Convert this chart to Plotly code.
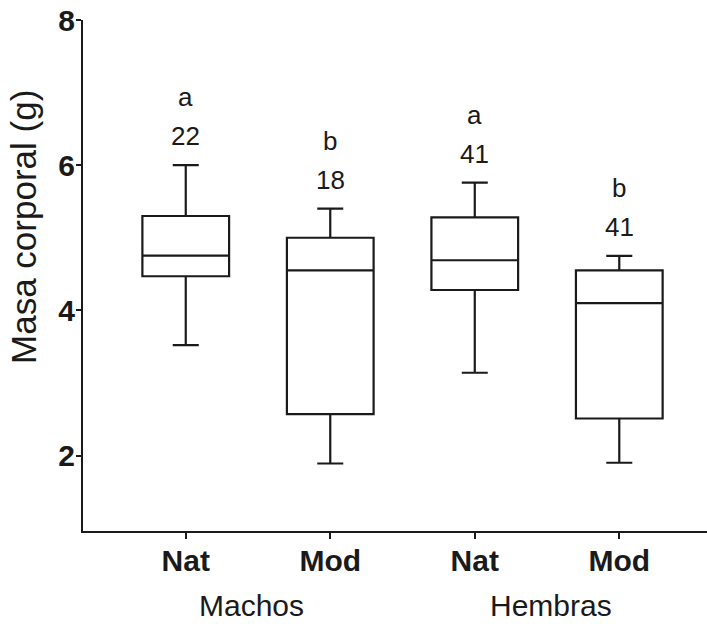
import plotly.graph_objects as go

# ---- data ----
categories = ["Nat", "Mod", "Nat", "Mod"]
groups = ["Machos", "Hembras"]
group_members = [[0, 1], [2, 3]]
upper_whisker = [6.00, 5.40, 5.76, 4.75]
q3_vals = [5.30, 5.00, 5.28, 4.55]
median_vals = [4.755, 4.55, 4.69, 4.10]
q1_vals = [4.47, 2.57, 4.28, 2.51]
lower_whisker = [3.52, 1.89, 3.14, 1.90]
n_labels = ["22", "18", "41", "41"]
sig_letters = ["a", "b", "a", "b"]
y_ticks = [2, 4, 6, 8]

positions = list(range(len(categories)))
FONT = "Liberation Sans, Arial, Helvetica, sans-serif"
INK = "#1a1a1a"

fig = go.Figure()
fig.add_trace(go.Box(
    x=positions,
    q1=q1_vals, median=median_vals, q3=q3_vals,
    lowerfence=lower_whisker, upperfence=upper_whisker,
    width=0.6, whiskerwidth=0.3,
    fillcolor="white",
    line=dict(color=INK, width=2.2),
    boxpoints=False,
    showlegend=False,
    hoverinfo="skip",
))

annotations = []
for i in positions:
    annotations.append(dict(x=i, y=upper_whisker[i], xref="x", yref="y",
                            text=n_labels[i], showarrow=False,
                            yanchor="bottom", yshift=12,
                            font=dict(family=FONT, size=26, color=INK)))
    annotations.append(dict(x=i, y=upper_whisker[i], xref="x", yref="y",
                            text=sig_letters[i], showarrow=False,
                            yanchor="bottom", yshift=51,
                            font=dict(family=FONT, size=26, color=INK)))

group_shifts = [-7, 4]
for g, members in enumerate(group_members):
    cx = sum(members) / len(members)
    annotations.append(dict(x=cx, y=0, xref="x", yref="paper",
                            text=groups[g], showarrow=False,
                            yanchor="middle", yshift=-74, xshift=group_shifts[g],
                            font=dict(family=FONT, size=30, color=INK)))

annotations.append(dict(x=0, y=0.595, xref="paper", yref="paper",
                        text="Masa corporal (g)", showarrow=False,
                        textangle=-90, xanchor="center", yanchor="middle",
                        xshift=-59,
                        font=dict(family=FONT, size=35, color=INK)))

fig.update_layout(
    width=707, height=624,
    margin=dict(l=83, r=0, t=20, b=93),
    paper_bgcolor="white", plot_bgcolor="white",
    annotations=annotations,
    xaxis=dict(range=[-0.711, 3.607], tickvals=positions, ticktext=categories,
               showline=True, linecolor=INK, linewidth=2,
               ticks="outside", ticklen=6, tickwidth=2, tickcolor=INK,
               showgrid=False, zeroline=False, ticklabelstandoff=-4,
               tickfont=dict(family=FONT, size=30, color=INK, weight="bold")),
    yaxis=dict(range=[0.96, 8.0], tickvals=y_ticks,
               showline=True, linecolor=INK, linewidth=2,
               ticks="outside", ticklen=5, tickwidth=2, tickcolor=INK,
               showgrid=False, zeroline=False, ticklabelstandoff=-5,
               tickfont=dict(family=FONT, size=30, color=INK, weight="bold")),
)

fig.write_html("out.html")
